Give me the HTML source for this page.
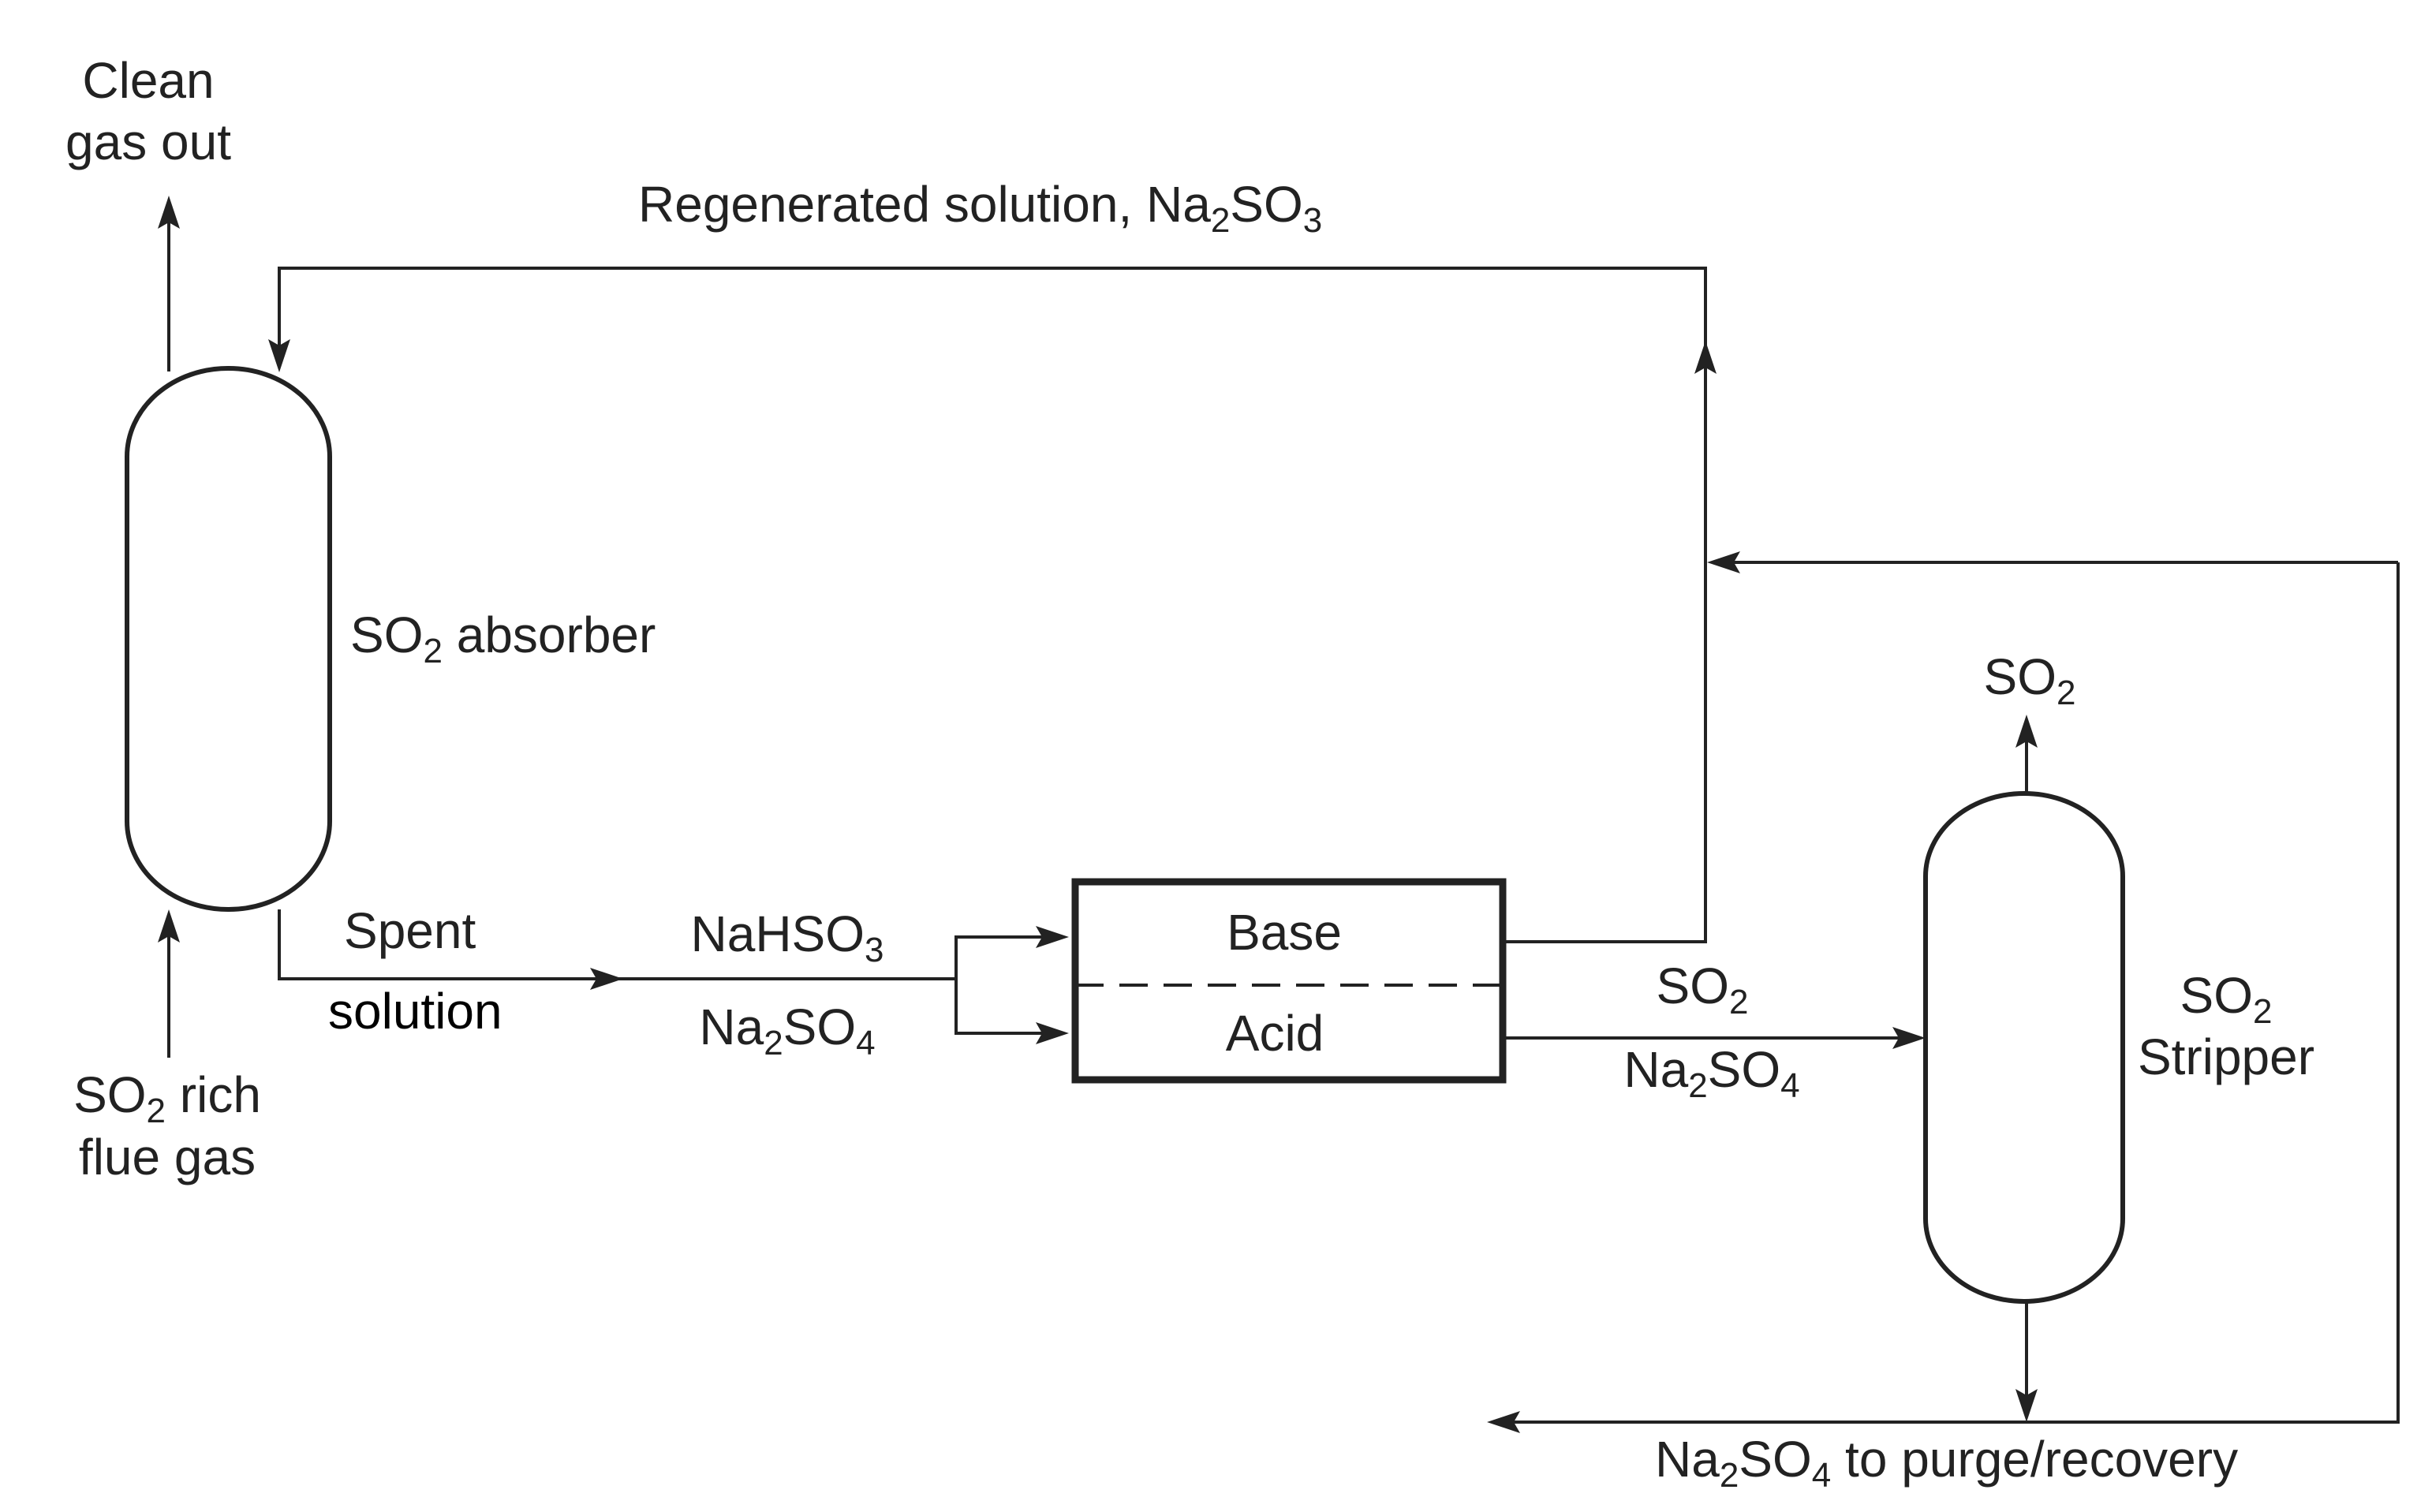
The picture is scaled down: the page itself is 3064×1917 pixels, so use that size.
<!DOCTYPE html>
<html><head><meta charset="utf-8"><style>
html,body{margin:0;padding:0;background:#fff;}
svg{display:block;}
text{font-family:"Liberation Sans",sans-serif;font-size:64px;fill:#222;}
</style></head><body>
<svg width="3064" height="1917" viewBox="0 0 3064 1917" xmlns="http://www.w3.org/2000/svg">
<g stroke="#222" stroke-width="4" fill="none">
<rect x="161" y="467" width="257" height="686" rx="128" ry="112" stroke-width="6"/>
<rect x="2441" y="1006" width="250" height="644" rx="125" ry="105" stroke-width="6"/>
<rect x="1363" y="1118" width="542" height="251" stroke-width="9"/>
<line x1="1363" y1="1249" x2="1905" y2="1249" stroke-dasharray="36,20"/>
<line x1="214" y1="471" x2="214" y2="262"/>
<polyline points="354,460 354,340 2162,340 2162,1194 1905,1194"/>
<line x1="3040" y1="713" x2="2175" y2="713"/>
<polyline points="3040,713 3040,1803 1895,1803"/>
<polyline points="354,1153 354,1241 1212,1241"/>
<polyline points="1340,1188 1212,1188 1212,1310 1340,1310"/>
<line x1="1905" y1="1316" x2="2430" y2="1316"/>
<line x1="214" y1="1341" x2="214" y2="1165"/>
<line x1="2569" y1="1006" x2="2569" y2="918"/>
<line x1="2569" y1="1650" x2="2569" y2="1790"/>
</g>
<g fill="#222">
<polygon points="214,248 200,290 214,282 228,290"/>
<polygon points="354,472 340,430 354,438 368,430"/>
<polygon points="2162,432 2148,474 2162,466 2176,474"/>
<polygon points="2164,713 2206,699 2198,713 2206,727"/>
<polygon points="1885,1803 1927,1789 1919,1803 1927,1817"/>
<polygon points="790,1241 748,1227 756,1241 748,1255"/>
<polygon points="1355,1188 1313,1174 1321,1188 1313,1202"/>
<polygon points="1355,1310 1313,1296 1321,1310 1313,1324"/>
<polygon points="2441,1316 2399,1302 2407,1316 2399,1330"/>
<polygon points="214,1153 200,1195 214,1187 228,1195"/>
<polygon points="2569,906 2555,948 2569,940 2583,948"/>
<polygon points="2569,1803 2555,1761 2569,1769 2583,1761"/>
</g>
<text x="188" y="124" text-anchor="middle">Clean</text>
<text x="188" y="202" text-anchor="middle">gas out</text>
<text x="809" y="281">Regenerated solution, Na<tspan font-size="44" dy="13">2</tspan><tspan dy="-13">SO</tspan><tspan font-size="44" dy="13">3</tspan></text>
<text x="444" y="827">SO<tspan font-size="44" dy="13">2</tspan><tspan dy="-13"> absorber</tspan></text>
<text x="436" y="1202">Spent</text>
<text x="416" y="1304" style="fill:#000;font-size:64px">solution</text>
<text x="998" y="1206" text-anchor="middle">NaHSO<tspan font-size="44" dy="13">3</tspan></text>
<text x="998" y="1324" text-anchor="middle">Na<tspan font-size="44" dy="13">2</tspan><tspan dy="-13">SO</tspan><tspan font-size="44" dy="13">4</tspan></text>
<text x="1628" y="1204" text-anchor="middle">Base</text>
<text x="1616" y="1332" text-anchor="middle">Acid</text>
<text x="2158" y="1272" text-anchor="middle">SO<tspan font-size="44" dy="13">2</tspan></text>
<text x="2170" y="1378" text-anchor="middle">Na<tspan font-size="44" dy="13">2</tspan><tspan dy="-13">SO</tspan><tspan font-size="44" dy="13">4</tspan></text>
<text x="2573" y="880" text-anchor="middle">SO<tspan font-size="44" dy="13">2</tspan></text>
<text x="2822" y="1284" text-anchor="middle">SO<tspan font-size="44" dy="13">2</tspan></text>
<text x="2822" y="1362" text-anchor="middle">Stripper</text>
<text x="212" y="1410" text-anchor="middle">SO<tspan font-size="44" dy="13">2</tspan><tspan dy="-13"> rich</tspan></text>
<text x="212" y="1489" text-anchor="middle">flue gas</text>
<text x="2098" y="1872">Na<tspan font-size="44" dy="13">2</tspan><tspan dy="-13">SO</tspan><tspan font-size="44" dy="13">4</tspan><tspan dy="-13"> to purge/recovery</tspan></text>
</svg>
</body></html>
